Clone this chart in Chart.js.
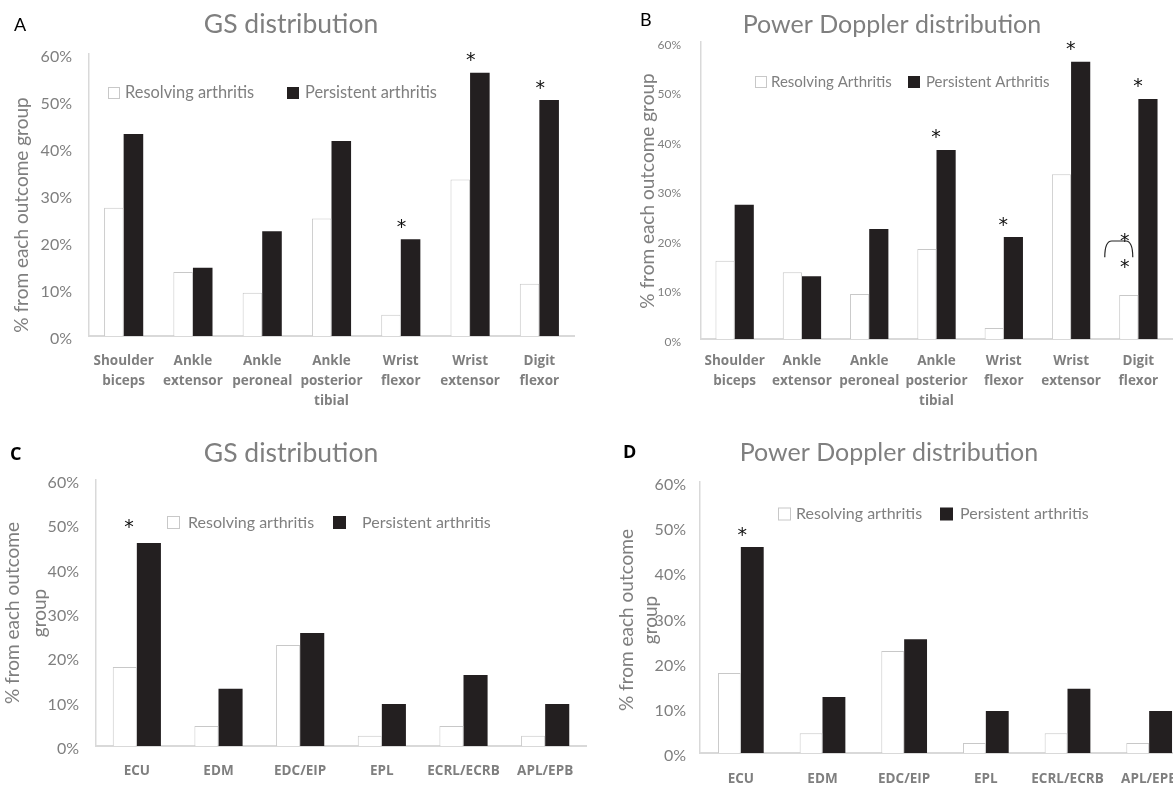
<!DOCTYPE html>
<html><head><meta charset="utf-8">
<script src="https://cdn.jsdelivr.net/npm/chart.js@4.4.1/dist/chart.umd.min.js"></script>
<style>
html,body{margin:0;padding:0;background:#fff;overflow:hidden;width:1173px;height:786px;position:relative;}
canvas{position:absolute;}
</style></head><body>
<canvas id="cA"></canvas><canvas id="cB"></canvas><canvas id="cC"></canvas><canvas id="cD"></canvas>
<script>
// ---------- data ----------
const upperCategories = [['Shoulder','biceps'],['Ankle','extensor'],['Ankle','peroneal'],['Ankle','posterior','tibial'],['Wrist','flexor'],['Wrist','extensor'],['Digit','flexor']];
const lowerCategories = ['ECU','EDM','EDC/EIP','EPL','ECRL/ECRB','APL/EPB'];
const yTickValues = [0,10,20,30,40,50,60];

const gsResolvingA   = [27.3, 13.6, 9.2, 25.0, 4.5, 33.3, 11.1];
const gsPersistentA  = [43.0, 14.5, 22.3, 41.5, 20.6, 56.0, 50.2];
const pdResolvingB   = [15.8, 13.5, 9.1, 18.2, 2.2, 33.3, 8.9];
const pdPersistentB  = [27.1, 12.7, 22.2, 38.2, 20.6, 56.0, 48.5];
const gsResolvingC   = [17.8, 4.5, 22.8, 2.3, 4.5, 2.3];
const gsPersistentC  = [45.8, 12.9, 25.5, 9.5, 16.0, 9.5];
const pdResolvingD   = [17.7, 4.4, 22.6, 2.2, 4.4, 2.2];
const pdPersistentD  = [45.6, 12.4, 25.2, 9.3, 14.2, 9.3];

const significantA = [4,5,6];
const significantB = [3,4,5,6];
const significantC = [0];
const significantD = [0];

// ---------- style ----------
const GRAY = '#7f7f7f';
const FONT = 'Lato, "Open Sans", sans-serif';
const BOLDFONT = '"Open Sans", Lato, sans-serif';
const STARFONT = '"DejaVu Sans", sans-serif';
Chart.defaults.font.family = FONT;
Chart.defaults.color = GRAY;

function drawStar(ctx, x, y, size){
  ctx.font = size + 'px ' + STARFONT;
  ctx.fillStyle = '#111';
  ctx.textAlign = 'center'; ctx.textBaseline = 'alphabetic';
  const m = ctx.measureText('*');
  ctx.fillText('*', x, y + (m.actualBoundingBoxAscent - m.actualBoundingBoxDescent)/2);
}

function decor(p){
  return {
    id:'decor',
    afterDraw(chart){
      const ctx = chart.ctx;
      ctx.save();
      // panel letter
      ctx.fillStyle = '#000';
      ctx.font = (p.letterBold ? 'bold ' : '') + '18px ' + (p.letterBold ? BOLDFONT : FONT);
      ctx.textAlign = 'left'; ctx.textBaseline = 'middle';
      ctx.fillText(p.letter, p.letterX, p.letterY);
      // title
      ctx.fillStyle = GRAY;
      ctx.font = p.titleSize + 'px ' + FONT;
      ctx.textAlign = 'center';
      ctx.fillText(p.title, p.titleX, p.titleY);
      // y axis title
      ctx.font = '19px ' + FONT;
      p.yTitle.forEach((t,i)=>{
        ctx.save();
        ctx.translate(p.yTitleX[i], p.yTitleY);
        ctx.rotate(-Math.PI/2);
        ctx.textAlign='center'; ctx.textBaseline='middle';
        ctx.fillText(t, 0, 0);
        ctx.restore();
      });
      // legend
      const L = p.legendPos;
      ctx.font = L.size + 'px ' + FONT;
      ctx.textAlign = 'left'; ctx.textBaseline = 'middle';
      chart.data.datasets.forEach((ds,i)=>{
        const it = L.items[i];
        ctx.fillStyle = ds.backgroundColor;
        ctx.fillRect(it.bx, L.y - L.box/2, L.box, L.box);
        if (ds.borderWidth){
          ctx.strokeStyle = ds.borderColor; ctx.lineWidth = 1;
          ctx.strokeRect(it.bx+0.5, L.y - L.box/2 + 0.5, L.box-1, L.box-1);
        }
        ctx.fillStyle = GRAY;
        ctx.fillText(ds.label, it.tx, L.y);
      });
      // asterisks
      const meta = chart.getDatasetMeta(1);
      p.sig.forEach(i=>{
        const el = meta.data[i];
        drawStar(ctx, el.x + p.starDx, el.y + p.starDy, 19);
      });
      // bracket (panel B digit flexor)
      if (p.bracket){
        const w = chart.getDatasetMeta(0).data[p.bracket.index];
        const ys = chart.scales.y;
        const x0 = w.x - 24, x1 = w.x + 4;
        const yt = ys.getPixelForValue(19.8), yb = ys.getPixelForValue(16.5);
        ctx.strokeStyle = '#222'; ctx.lineWidth = 1.2;
        ctx.beginPath();
        ctx.moveTo(x0, yb);
        ctx.quadraticCurveTo(x0, yt, x0+7, yt);
        ctx.lineTo(x1-7, yt);
        ctx.quadraticCurveTo(x1, yt, x1, yb);
        ctx.stroke();
        drawStar(ctx, w.x - 4, ys.getPixelForValue(20.6), 19);
        drawStar(ctx, w.x - 4, ys.getPixelForValue(15.3), 19);
      }
      ctx.restore();
    }
  };
}

function makeChart(id, p){
  const canvas = document.getElementById(id);
  canvas.width = p.w; canvas.height = p.h;
  canvas.style.left = p.x + 'px'; canvas.style.top = p.y + 'px';
  return new Chart(canvas, {
    type:'bar',
    data:{
      labels:p.labels,
      datasets:[
        {label:p.legend[0], data:p.resolving, backgroundColor:'#ffffff', borderColor:'#c8c8c8', borderWidth:1, categoryPercentage:p.cat, barPercentage:1},
        {label:p.legend[1], data:p.persistent, backgroundColor:'#231f20', borderWidth:0, categoryPercentage:p.cat, barPercentage:1}
      ]
    },
    options:{
      responsive:false, animation:false, devicePixelRatio:1,
      layout:{padding:{left:0, top:p.area.top, right:p.w - p.area.right, bottom:0}},
      plugins:{legend:{display:false}, tooltip:{enabled:false}, title:{display:false}},
      scales:{
        x:{
          grid:{display:false, drawTicks:false},
          border:{display:true, color:'#d9d9d9', width:2},
          ticks:{color:GRAY, font:{family:BOLDFONT, size:13.5, weight:'bold', lineHeight:1.48}, padding:p.xPad, maxRotation:0, minRotation:0, autoSkip:false},
          afterFit:s=>{ s.height = p.h - p.area.bottom; }
        },
        y:{
          min:0, max:60,
          grid:{display:false, drawTicks:false},
          border:{display:true, color:'#d9d9d9', width:1.5},
          afterBuildTicks:s=>{ s.ticks = yTickValues.map(v=>({value:v})); },
          ticks:{color:GRAY, font:{size:p.yTickSize}, padding:p.yPad, labelOffset:3, callback:v=>v+'%'},
          afterFit:s=>{ s.width = p.area.left; }
        }
      }
    },
    plugins:[decor(p)]
  });
}

makeChart('cA', {
  x:0, y:0, w:586, h:410, area:{left:89, right:574, top:54, bottom:336},
  labels:upperCategories, resolving:gsResolvingA, persistent:gsPersistentA,
  legend:['Resolving arthritis','Persistent arthritis'],
  cat:0.565, xPad:15, yPad:17, yTickSize:16,
  letter:'A', letterBold:false, letterX:14, letterY:25,
  title:'GS distribution', titleSize:26.5, titleX:291, titleY:24,
  yTitle:['% from each outcome group'], yTitleX:[22], yTitleY:215,
  legendPos:{y:93, box:12, size:16.4, items:[{bx:108, tx:125},{bx:287, tx:305}]},
  sig:significantA, starDx:-9, starDy:-16
});
makeChart('cB', {
  x:590, y:0, w:583, h:410, area:{left:111, right:582, top:42, bottom:339},
  labels:upperCategories, resolving:pdResolvingB, persistent:pdPersistentB,
  legend:['Resolving Arthritis','Persistent Arthritis'],
  cat:0.57, xPad:12, yPad:20, yTickSize:12,
  letter:'B', letterBold:false, letterX:50, letterY:20,
  title:'Power Doppler distribution', titleSize:25, titleX:302, titleY:25,
  yTitle:['% from each outcome group'], yTitleX:[58], yTitleY:191,
  legendPos:{y:82, box:12, size:15, items:[{bx:165, tx:181},{bx:318, tx:336}]},
  sig:significantB, starDx:-10, starDy:-16, bracket:{index:6}
});
makeChart('cC', {
  x:0, y:400, w:590, h:386, area:{left:96, right:586, top:80, bottom:346},
  labels:lowerCategories, resolving:gsResolvingC, persistent:gsPersistentC,
  legend:['Resolving arthritis','Persistent arthritis'],
  cat:0.59, xPad:15, yPad:17, yTickSize:16,
  letter:'C', letterBold:true, letterX:10, letterY:55,
  title:'GS distribution', titleSize:26.5, titleX:291, titleY:53,
  yTitle:['% from each outcome','group'], yTitleX:[13,40], yTitleY:213,
  legendPos:{y:122.5, box:13, size:16, items:[{bx:167, tx:188},{bx:333, tx:362}]},
  sig:significantC, starDx:-20, starDy:-19
});
makeChart('cD', {
  x:590, y:400, w:612, h:386, area:{left:110, right:600, top:82, bottom:353},
  labels:lowerCategories, resolving:pdResolvingD, persistent:pdPersistentD,
  legend:['Resolving arthritis','Persistent arthritis'],
  cat:0.56, xPad:16, yPad:14, yTickSize:16,
  letter:'D', letterBold:true, letterX:33, letterY:53,
  title:'Power Doppler distribution', titleSize:25, titleX:299, titleY:53,
  yTitle:['% from each outcome','group'], yTitleX:[37,61], yTitleY:220,
  legendPos:{y:114, box:13, size:16, items:[{bx:188, tx:206},{bx:350, tx:370}]},
  sig:significantD, starDx:-10, starDy:-16
});
</script>
</body></html>
